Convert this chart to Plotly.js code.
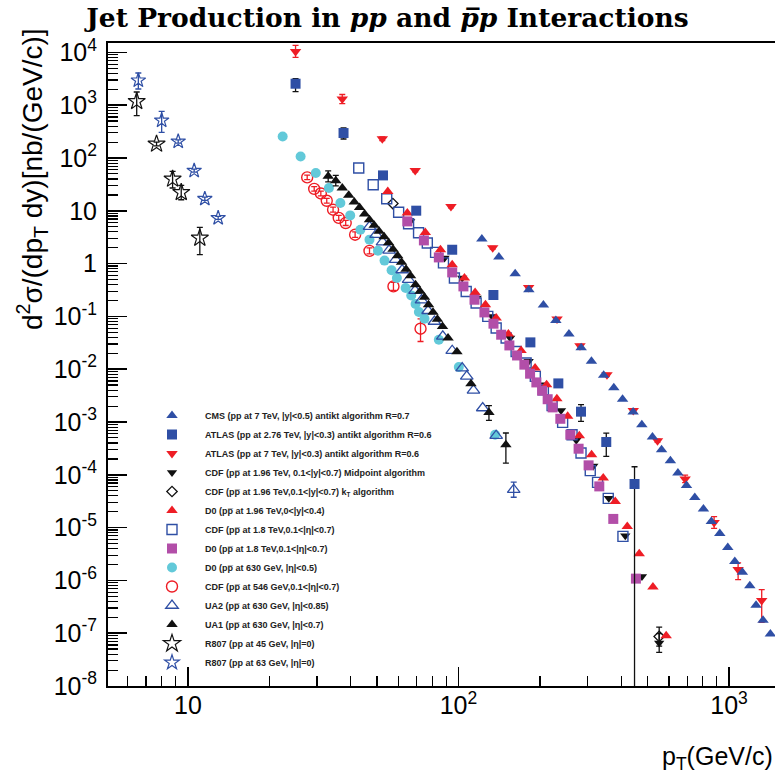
<!DOCTYPE html>
<html><head><meta charset="utf-8">
<script src="https://cdn.plot.ly/plotly-3.0.1.min.js"></script>
<style>html,body{margin:0;padding:0;background:#fff;overflow:hidden}</style>
</head><body><div id="chart" style="width:775px;height:778px"></div>
<script>
// ---------------- data (pT in GeV/c, cross section in nb/(GeV/c)) ----------------
var cmsX = [122,141,162,182,206,229,256,284,310,344,375,404,442,476,521,563,607,647,696,747,804,860,924,989,1050,1120,1193,1258,1335,1421];
var cmsY = [2.92,1.33,0.644,0.321,0.164,0.0840,0.0464,0.0255,0.0141,0.00764,0.00443,0.00270,0.00155,8.89e-4,5.20e-4,2.99e-4,1.85e-4,1.08e-4,6.30e-5,3.73e-5,2.25e-5,1.31e-5,7.76e-6,4.21e-6,2.29e-6,1.42e-6,7.94e-7,3.37e-7,1.75e-7,9.66e-8];

var atlas276X = [25.0,37.6,52.6,69.8,94.8,134.6,184.4,233.9,283.7,351.7,447.3];
var atlas276Y = [2553,297,46.8,10.05,1.83,0.254,0.0322,0.00538,0.00157,4.18e-4,6.70e-5];
var atlas276Up = [624,73,4,0.8,0.12,0.018,0.0025,4.5e-4,5.6e-4,2.0e-4,7.5e-5];
var atlas276Dn = [750,68,4,0.8,0.12,0.018,0.0025,4.5e-4,5.4e-4,1.95e-4,9.0e-5];

var atlas7X = [25.0,37.2,52.3,69.2,93.8,133.8,181.7,231.3,281.2,353.8,442.4,543.9,688.0,880.4,1080,1320];
var atlas7Y = [10440,1309,232,58.2,12.1,2.00,0.354,0.0893,0.0279,0.00787,0.00166,4.43e-4,8.32e-5,1.25e-5,1.60e-6,4.18e-7];
var atlas7Up = [3100,285,20,4,0.8,0.12,0.02,0.005,0.0016,4.5e-4,1e-4,3e-5,1.5e-5,3.6e-6,5.4e-7,2.5e-7];
var atlas7Dn = [2400,234,18,3.5,0.7,0.11,0.019,0.0047,0.0015,4.3e-4,9e-5,2.8e-5,1.2e-5,2.8e-6,5.7e-7,2.58e-7];

var cdfMidX = [66.3,88.8,103.2,116.8,133.2,155.2,181.7,204.7,239.3,272.5,314.9,359.3,413.4,476.4,551.7];
var cdfMidY = [6.30,1.28,0.533,0.223,0.100,0.0390,0.0141,0.00508,0.00166,4.52e-4,1.46e-4,3.61e-5,7.03e-6,1.19e-6,6.52e-8];
var cdfMidUp = [NaN,NaN,NaN,NaN,NaN,NaN,NaN,NaN,NaN,NaN,NaN,NaN,NaN,NaN,3.3e-8];
var cdfMidDn = [NaN,NaN,NaN,NaN,NaN,NaN,NaN,NaN,NaN,NaN,NaN,NaN,NaN,NaN,2.2e-8];

var cdfKtX = [57.2,551.7];
var cdfKtY = [13.7,8.69e-8];
var cdfKtUp = [NaN,4.4e-8];
var cdfKtDn = [NaN,3.0e-8];

var d0196X = [54.8,64.7,75.4,85.8,94.8,105.2,115.2,125.8,137.8,152.9,170.3,191.9,211.7,231.0,253.2,279.6,310.4,342.8,379.6,420.5,465.5,523.1,585.5];
var d0196Y = [23.3,9.08,3.90,1.83,0.953,0.533,0.285,0.167,0.0933,0.0464,0.0227,0.0105,0.00508,0.00276,0.00128,5.50e-4,2.40e-4,8.69e-5,3.13e-5,1.05e-5,3.21e-6,7.50e-7,8.97e-8];

var cdf18X = [42.8,48.4,54.3,60.1,65.4,71.2,76.7,82.3,88.0,96.6,106.8,116.2,128.3,137.8,150.0,163.3,177.8,192.3,205.9,221.8,242.6,262.8,283.7,306.9,326.6,357.7,405.3];
var cdf18Y = [64.7,31.2,16.9,9.40,5.70,3.85,2.45,1.63,1.03,0.533,0.297,0.179,0.100,0.0603,0.0390,0.0217,0.0131,0.00731,0.00409,0.00204,9.82e-4,5.74e-4,2.59e-4,1.20e-4,7.18e-5,3.57e-5,6.81e-6];

var d018X = [64.7,74.5,84.6,94.8,104.3,114.6,124.7,134.7,143.8,154.2,164.6,175.2,183.9,194.0,203.7,213.6,222.8,237.9,259.0,277.9,302.6,331.4,373.3,452.6];
var d018Y = [6.30,2.75,1.31,0.681,0.370,0.207,0.119,0.0728,0.0450,0.0282,0.0182,0.0122,0.00822,0.00562,0.00392,0.00270,0.00189,0.00115,5.74e-4,3.12e-4,1.51e-4,6.03e-5,1.46e-5,1.08e-6];

var d0630X = [22.4,26.1,29.7,33.2,36.6,39.8,43.4,46.9,50.4,53.3,56.6,59.2,63.8,66.9,69.4,71.4,74.9,84.6,100.3,136.6];
var d0630Y = [256,107,52.0,27.0,14.1,8.18,4.39,2.84,1.76,1.14,0.750,0.533,0.345,0.250,0.172,0.121,0.0904,0.0362,0.0110,5.74e-4];

var cdf546X = [27.6,29.3,31.0,32.6,34.4,36.1,38.3,41.5,46.9,57.5,72.4];
var cdf546Y = [42.9,26.0,21.3,15.5,10.5,7.34,5.87,3.53,1.74,0.370,0.0585];
var cdf546Up = [4.5,2.8,2.3,1.7,1.2,0.85,0.7,0.45,0.25,0.07,0.031];
var cdf546Dn = [4.0,2.5,2.1,1.5,1.05,0.75,0.6,0.4,0.21,0.06,0.025];

var ua2X = [46.9,49.6,52.4,55.4,58.6,61.9,65.4,69.1,73.0,77.2,81.5,87.5,94.8,103.2,107.3,113.6,122.9,137.8,160.0];
var ua2Y = [5.00,3.53,2.56,1.78,1.19,0.757,0.495,0.307,0.203,0.128,0.0800,0.0418,0.0224,0.0105,0.00731,0.00396,0.00184,5.50e-4,5.22e-5];
var ua2Up = [NaN,NaN,NaN,NaN,NaN,NaN,NaN,NaN,NaN,NaN,NaN,NaN,NaN,NaN,NaN,NaN,NaN,NaN,2.05e-5];
var ua2Dn = [NaN,NaN,NaN,NaN,NaN,NaN,NaN,NaN,NaN,NaN,NaN,NaN,NaN,NaN,NaN,NaN,NaN,NaN,1.46e-5];

var ua1X = [33.0,35.2,37.2,39.3,41.2,43.1,45.0,46.9,48.8,50.9,53.1,55.2,57.3,59.6,61.6,64.0,66.5,69.4,72.1,74.9,77.5,80.5,83.6,87.3,91.5,98.7,111.2,129.6,149.7];
var ua1Y = [45.2,37.2,27.0,19.6,14.7,11.5,8.70,6.78,5.33,4.11,3.23,2.49,1.87,1.41,1.06,0.783,0.590,0.396,0.299,0.230,0.166,0.120,0.0885,0.0647,0.0390,0.0214,0.00531,0.00152,3.72e-4];
var ua1Up = [12,9.6,NaN,NaN,NaN,NaN,NaN,NaN,NaN,NaN,NaN,NaN,NaN,NaN,NaN,NaN,NaN,NaN,NaN,NaN,NaN,NaN,NaN,NaN,NaN,NaN,NaN,5.2e-4,2.47e-4];
var ua1Dn = [10,7.6,NaN,NaN,NaN,NaN,NaN,NaN,NaN,NaN,NaN,NaN,NaN,NaN,NaN,NaN,NaN,NaN,NaN,NaN,NaN,NaN,NaN,NaN,NaN,NaN,NaN,4.5e-4,2.05e-4];

var r807a45X = [6.47,7.66,8.78,9.45,11.07];
var r807a45Y = [1180,184,40.0,22.3,3.05];
var r807a45Up = [598,15,15.7,8.0,1.8];
var r807a45Dn = [548,14,13.0,6.1,1.57];

var r807a63X = [6.56,8.00,9.21,10.55,11.55,12.94];
var r807a63Y = [2951,515,206,57.5,16.9,7.31];
var r807a63Up = [1123,249,15,4,1.2,0.5];
var r807a63Dn = [923,210,14,3.7,1.1,0.45];

var xTickVals = [10,100,1000];
var xTickText = ['10','10<sup>2</sup>','10<sup>3</sup>'];
var yTickVals = [1e-8,1e-7,1e-6,1e-5,1e-4,1e-3,1e-2,1e-1,1,10,100,1000,10000];
var yTickText = ['10<sup>-8</sup>','10<sup>-7</sup>','10<sup>-6</sup>','10<sup>-5</sup>','10<sup>-4</sup>','10<sup>-3</sup>','10<sup>-2</sup>','10<sup>-1</sup>','1','10','10<sup>2</sup>','10<sup>3</sup>','10<sup>4</sup>'];

// ---------------- styling ----------------
var BLUE = '#2f4fa5', RED = '#ee1d25', MAG = '#b24ea8', CYAN = '#62c9d9', BLACK = '#111111';
var PB = 'p\u0305';   // p-bar

function minorVals(lo, hi) {
  var out = [];
  for (var e = lo; e <= hi; e++) for (var m = 2; m <= 9; m++) out.push(m * Math.pow(10, e));
  return out;
}

function tr(opt) {
  var t = {
    type: 'scatter', mode: 'markers', x: opt.x, y: opt.y, name: opt.name,
    legendrank: opt.rank,
    marker: { symbol: opt.symbol, size: opt.size, color: opt.color,
              line: { width: opt.lw || 0, color: opt.color } },
    cliponaxis: true, hoverinfo: 'x+y'
  };
  if (opt.up) {
    t.error_y = { type: 'data', symmetric: false, array: opt.up, arrayminus: opt.dn,
                  color: opt.ecolor || opt.color, thickness: 1.3, width: 3 };
  }
  return t;
}

var traces = [
  tr({x: r807a45X, y: r807a45Y, up: r807a45Up, dn: r807a45Dn, name: 'R807 (pp at 45 GeV, |η|=0)', rank: 13, symbol: 'star-open', size: 13, color: BLACK, lw: 1.2}),
  tr({x: r807a63X, y: r807a63Y, up: r807a63Up, dn: r807a63Dn, name: 'R807 (pp at 63 GeV, |η|=0)', rank: 14, symbol: 'star-open', size: 11, color: BLUE, lw: 1.2}),
  tr({x: cdf546X, y: cdf546Y, up: cdf546Up, dn: cdf546Dn, name: 'CDF (p' + PB + ' at 546 GeV,0.1&lt;|η|&lt;0.7)', rank: 10, symbol: 'circle-open', size: 11, color: RED, lw: 1.4}),
  tr({x: d0630X, y: d0630Y, name: 'D0 (p' + PB + ' at 630 GeV, |η|&lt;0.5)', rank: 9, symbol: 'circle', size: 10, color: CYAN}),
  tr({x: ua2X, y: ua2Y, up: ua2Up, dn: ua2Dn, name: 'UA2 (p' + PB + ' at 630 GeV, |η|&lt;0.85)', rank: 11, symbol: 'triangle-up-open', size: 11, color: BLUE, lw: 1.3}),
  tr({x: ua1X, y: ua1Y, up: ua1Up, dn: ua1Dn, name: 'UA1 (p' + PB + ' at 630 GeV, |η|&lt;0.7)', rank: 12, symbol: 'triangle-up', size: 10, color: BLACK}),
  tr({x: cdfMidX, y: cdfMidY, up: cdfMidUp, dn: cdfMidDn, name: 'CDF (p' + PB + ' at 1.96 TeV, 0.1&lt;|y|&lt;0.7) Midpoint algorithm', rank: 4, symbol: 'triangle-down', size: 9, color: BLACK}),
  tr({x: cdfKtX, y: cdfKtY, up: cdfKtUp, dn: cdfKtDn, name: 'CDF (p' + PB + ' at 1.96 TeV,0.1&lt;|y|&lt;0.7) k<sub>T</sub> algorithm', rank: 5, symbol: 'diamond-open', size: 8, color: BLACK, lw: 1.3}),
  tr({x: cdf18X, y: cdf18Y, name: 'CDF (p' + PB + ' at 1.8 TeV,0.1&lt;|η|&lt;0.7)', rank: 7, symbol: 'square-open', size: 10, color: BLUE, lw: 1.4}),
  tr({x: d0196X, y: d0196Y, name: 'D0 (p' + PB + ' at 1.96 TeV,0&lt;|y|&lt;0.4)', rank: 6, symbol: 'triangle-up', size: 10, color: RED}),
  tr({x: d018X, y: d018Y, name: 'D0 (p' + PB + ' at 1.8 TeV,0.1&lt;|η|&lt;0.7)', rank: 8, symbol: 'square', size: 10, color: MAG}),
  tr({x: atlas7X, y: atlas7Y, up: atlas7Up, dn: atlas7Dn, name: 'ATLAS (pp at 7 TeV, |y|&lt;0.3) antikt algorithm R=0.6', rank: 3, symbol: 'triangle-down', size: 10, color: RED}),
  tr({x: atlas276X, y: atlas276Y, up: atlas276Up, dn: atlas276Dn, ecolor: BLACK, name: 'ATLAS (pp at 2.76 TeV, |y|&lt;0.3) antikt algorithm R=0.6', rank: 2, symbol: 'square', size: 10, color: BLUE}),
  tr({x: cmsX, y: cmsY, name: 'CMS (pp at 7 TeV, |y|&lt;0.5) antikt algorithm R=0.7', rank: 1, symbol: 'triangle-up', size: 10, color: BLUE})
];

var FONT = 'Liberation Sans, Arial, Helvetica, sans-serif';
var L = 108, T = 43, B = 92, W = 775, H = 778;
var plotW = W - L, plotH = H - T - B;

var axisCommon = {
  type: 'log', showgrid: false, zeroline: false, showline: true, linecolor: 'black', linewidth: 2,
  ticks: 'inside', ticklen: 19, tickwidth: 1.5, tickcolor: 'black', tickmode: 'array',
  tickfont: { family: FONT, size: 25, color: 'black' }
};

var layout = {
  width: W, height: H,
  margin: { l: L, r: 0, t: T, b: B, pad: 0 },
  paper_bgcolor: 'white', plot_bgcolor: 'white',
  font: { family: FONT, color: 'black' },
  title: {
    text: 'Jet Production in <i>pp</i> and <i>' + PB + 'p</i> Interactions',
    font: { family: 'DejaVu Serif, serif', size: 26.5, weight: 'bold', color: 'black' },
    x: 0.5, xref: 'container', xanchor: 'center',
    y: 1 - 18 / H, yref: 'container', yanchor: 'middle'
  },
  xaxis: Object.assign({}, axisCommon, {
    range: [0.7048, 3.1697], mirror: true,
    tickvals: xTickVals, ticktext: xTickText, ticklabelstandoff: -4,
    minor: { ticks: 'inside', ticklen: 10, tickwidth: 1.2, tickcolor: 'black', tickmode: 'array', tickvals: minorVals(0, 3), showgrid: false }
  }),
  yaxis: Object.assign({}, axisCommon, {
    range: [-8, 4.178], mirror: false,
    tickvals: yTickVals, ticktext: yTickText, ticklabelstandoff: 4,
    minor: { ticks: 'inside', ticklen: 10, tickwidth: 1.2, tickcolor: 'black', tickmode: 'array', tickvals: minorVals(-8, 4), showgrid: false }
  }),
  showlegend: true,
  legend: {
    x: (139 - L) / plotW, xanchor: 'left', xref: 'paper',
    y: (686 - 401) / plotH, yanchor: 'top', yref: 'paper',
    bgcolor: 'rgba(0,0,0,0)', borderwidth: 0, itemwidth: 56, tracegroupgap: 0,
    font: { family: FONT, size: 9, weight: 'bold', color: '#222' },
    traceorder: 'normal'
  },
  annotations: [
    { text: 'd<sup>2</sup>σ/(dp<sub>T</sub> dy)[nb/(GeV/c)]', textangle: -90, showarrow: false,
      xref: 'paper', yref: 'paper', x: (32 - L) / plotW, xanchor: 'center',
      y: (686 - 26) / plotH, yanchor: 'top', font: { family: FONT, size: 28, color: 'black' } },
    { text: 'p<sub>T</sub>(GeV/c)', showarrow: false,
      xref: 'paper', yref: 'paper', x: 1, xanchor: 'right',
      y: (686 - 740) / plotH, yanchor: 'top', font: { family: FONT, size: 25, color: 'black' } }
  ]
};

Plotly.newPlot('chart', traces, layout, { staticPlot: true, displayModeBar: false });
</script></body></html>
